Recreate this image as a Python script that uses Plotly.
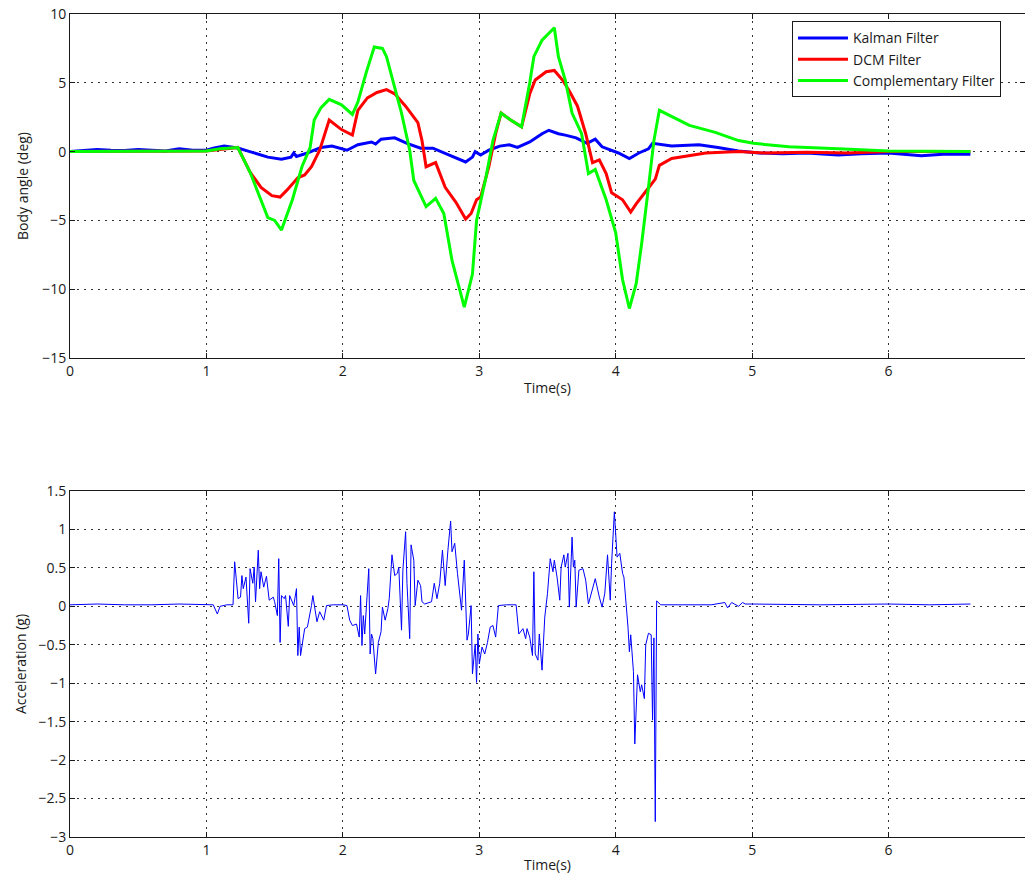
import plotly.graph_objects as go
from plotly.subplots import make_subplots

# ---- Body angle estimates (deg) ----
kalman_t = [0.0, 0.1, 0.2, 0.3, 0.4, 0.5, 0.6, 0.7, 0.8, 0.9, 1.0, 1.05, 1.13, 1.2, 1.23, 1.3,
            1.35, 1.45, 1.55, 1.62, 1.64, 1.66, 1.74, 1.84, 1.92, 2.03, 2.11, 2.21, 2.24, 2.28,
            2.38, 2.47, 2.57, 2.66, 2.78, 2.90, 2.95, 2.97, 3.01, 3.07, 3.15, 3.22, 3.28, 3.37,
            3.43, 3.46, 3.51, 3.58, 3.63, 3.71, 3.79, 3.85, 3.90, 4.02, 4.10, 4.17, 4.24, 4.27,
            4.41, 4.61, 4.75, 4.90, 5.05, 5.22, 5.4, 5.63, 5.8, 6.0, 6.24, 6.4, 6.6]
kalman_v = [0.0, 0.05, 0.15, 0.1, 0.08, 0.15, 0.1, 0.05, 0.2, 0.1, 0.1, 0.25, 0.4, 0.3, 0.26, 0.05,
            -0.1, -0.4, -0.55, -0.4, -0.1, -0.35, -0.1, 0.3, 0.4, 0.1, 0.5, 0.7, 0.55, 0.9,
            1.0, 0.6, 0.25, 0.25, -0.25, -0.75, -0.4, 0.0, -0.25, 0.1, 0.4, 0.5, 0.3, 0.7,
            1.1, 1.3, 1.55, 1.3, 1.2, 1.0, 0.6, 0.9, 0.35, -0.1, -0.5, -0.1, 0.2, 0.6,
            0.4, 0.5, 0.3, 0.05, -0.1, -0.15, -0.1, -0.25, -0.15, -0.1, -0.3, -0.2, -0.2]

dcm_t = [0.0, 0.5, 1.0, 1.1, 1.2, 1.23, 1.32, 1.40, 1.48, 1.54, 1.59, 1.67, 1.72, 1.77, 1.83,
         1.88, 1.90, 1.99, 2.07, 2.11, 2.18, 2.25, 2.32, 2.38, 2.46, 2.55, 2.58, 2.61, 2.68,
         2.75, 2.83, 2.90, 2.94, 2.98, 3.01, 3.07, 3.12, 3.16, 3.23, 3.31, 3.37, 3.41, 3.49,
         3.55, 3.61, 3.66, 3.72, 3.78, 3.83, 3.88, 3.93, 3.97, 4.05, 4.11, 4.15, 4.22, 4.29,
         4.32, 4.41, 4.66, 4.9, 5.1, 5.4, 5.7, 6.0, 6.6]
dcm_v = [0.0, 0.05, 0.05, 0.15, 0.25, 0.3, -1.5, -2.6, -3.2, -3.3, -2.8, -1.9, -1.7, -1.1, 0.1,
         1.6, 2.3, 1.6, 1.2, 3.0, 3.9, 4.3, 4.5, 4.2, 3.3, 2.1, 0.8, -1.1, -0.8,
         -2.6, -3.7, -4.9, -4.5, -3.5, -3.3, -1.1, 1.3, 2.8, 2.3, 1.8, 4.2, 5.2, 5.8,
         5.9, 5.2, 4.4, 3.3, 1.3, -0.8, -0.6, -1.6, -3.0, -3.5, -4.4, -3.8, -2.9, -2.0,
         -1.0, -0.5, -0.1, 0.0, -0.1, -0.05, -0.1, 0.0, 0.0]

comp_t = [0.0, 0.5, 1.0, 1.1, 1.23, 1.32, 1.38, 1.45, 1.50, 1.55, 1.63, 1.70, 1.76, 1.79, 1.84,
          1.90, 1.99, 2.07, 2.11, 2.17, 2.23, 2.29, 2.32, 2.38, 2.43, 2.49, 2.52, 2.61, 2.68,
          2.74, 2.80, 2.89, 2.95, 2.98, 3.05, 3.10, 3.16, 3.23, 3.31, 3.37, 3.40, 3.46, 3.50,
          3.55, 3.58, 3.63, 3.68, 3.71, 3.75, 3.80, 3.85, 3.93, 4.00, 4.05, 4.10, 4.15, 4.19,
          4.24, 4.28, 4.32, 4.54, 4.73, 4.90, 5.01, 5.27, 5.63, 6.0, 6.6]
comp_v = [0.0, 0.05, 0.05, 0.2, 0.3, -1.5, -3.0, -4.8, -5.0, -5.7, -3.5, -1.1, 0.3, 2.3, 3.2,
          3.8, 3.4, 2.7, 3.6, 5.7, 7.6, 7.5, 6.9, 4.7, 2.8, 0.1, -2.1, -4.0, -3.4,
          -4.5, -7.9, -11.3, -8.9, -5.0, -1.8, 0.8, 2.8, 2.3, 1.8, 5.0, 6.9, 8.1, 8.5,
          9.0, 6.9, 5.2, 2.8, 2.1, 1.3, -1.6, -1.3, -3.5, -5.9, -9.3, -11.4, -9.6, -6.7,
          -2.6, 0.8, 3.0, 1.9, 1.4, 0.8, 0.6, 0.35, 0.2, 0.05, 0.0]

# ---- Measured acceleration (g) ----
acc_t = [0.0, 0.2, 0.4, 0.6, 0.8, 1.0, 1.05, 1.08, 1.10, 1.15, 1.195, 1.207, 1.232, 1.25, 1.26,
         1.27, 1.29, 1.31, 1.32, 1.34, 1.35, 1.36, 1.38, 1.39, 1.40, 1.42, 1.44, 1.46, 1.49,
         1.50, 1.52, 1.53, 1.54, 1.55, 1.57, 1.58, 1.60, 1.61, 1.64, 1.66, 1.67, 1.68, 1.69,
         1.72, 1.74, 1.77, 1.78, 1.81, 1.83, 1.86, 1.88, 1.93, 2.00, 2.03, 2.05, 2.07, 2.10,
         2.12, 2.13, 2.14, 2.15, 2.16, 2.17, 2.19, 2.20, 2.21, 2.22, 2.24, 2.26, 2.28, 2.29,
         2.31, 2.33, 2.34, 2.36, 2.38, 2.40, 2.41, 2.43, 2.44, 2.46, 2.47, 2.49, 2.50, 2.52,
         2.53, 2.55, 2.57, 2.58, 2.60, 2.65, 2.67, 2.69, 2.71, 2.73, 2.75, 2.77, 2.79, 2.80,
         2.82, 2.84, 2.87, 2.89, 2.91, 2.92, 2.94, 2.95, 2.97, 2.98, 2.99, 3.00, 3.02, 3.04,
         3.06, 3.08, 3.10, 3.12, 3.13, 3.14, 3.20, 3.27, 3.29, 3.32, 3.34, 3.35, 3.37, 3.39,
         3.40, 3.41, 3.43, 3.44, 3.46, 3.48, 3.50, 3.52, 3.54, 3.55, 3.57, 3.59, 3.60, 3.62,
         3.63, 3.65, 3.66, 3.68, 3.69, 3.70, 3.71, 3.73, 3.76, 3.78, 3.80, 3.83, 3.85, 3.88,
         3.90, 3.92, 3.94, 3.96, 3.97, 3.99, 4.01, 4.03, 4.05, 4.06, 4.08, 4.09, 4.10, 4.11,
         4.13, 4.14, 4.16, 4.18, 4.19, 4.21, 4.22, 4.24, 4.26, 4.27, 4.28, 4.29, 4.30, 4.33,
         4.5, 4.7, 4.8, 4.82, 4.85, 4.9, 4.93, 4.95, 5.0, 5.5, 6.0, 6.3, 6.6]
acc_v = [0.02, 0.03, 0.02, 0.02, 0.03, 0.02, 0.02, -0.10, 0.0, 0.02, 0.02, 0.58, 0.10, 0.12, 0.40,
         0.23, 0.38, -0.22, 0.49, 0.30, 0.51, 0.06, 0.73, 0.23, 0.45, 0.25, 0.39, 0.08, 0.12,
         0.06, -0.12, 0.62, -0.47, 0.14, 0.10, 0.14, -0.26, 0.14, 0.01, 0.23, -0.64, -0.27, -0.64,
         -0.29, -0.27, 0.01, 0.14, -0.20, -0.07, -0.18, 0.01, 0.02, 0.02, 0.01, -0.18, -0.25, -0.23,
         -0.40, 0.14, -0.51, -0.12, -0.36, -0.10, 0.49, -0.62, -0.36, -0.42, -0.88, -0.47, -0.33, -0.01,
         -0.18, -0.03, 0.10, 0.67, 0.40, 0.43, 0.51, -0.31, 0.47, 0.97, 0.30, -0.42, 0.80, 0.60,
         0.01, 0.34, 0.27, 0.06, 0.03, 0.06, 0.30, 0.10, 0.30, 0.73, 0.27, 0.73, 1.11, 0.71,
         0.82, 0.43, -0.05, 0.60, -0.44, -0.36, 0.01, -0.88, -0.49, -0.99, -0.36, -0.75, -0.53, -0.62,
         -0.47, -0.27, -0.25, -0.40, -0.16, 0.01, 0.02, 0.02, -0.36, -0.29, -0.42, -0.29, -0.40, -0.64,
         0.45, -0.62, -0.70, -0.36, -0.83, -0.14, 0.17, 0.62, 0.45, 0.60, 0.38, 0.08, 0.51, 0.67,
         0.51, 0.69, -0.01, 0.90, 0.51, 0.60, -0.01, 0.47, 0.49, 0.34, 0.03, 0.25, 0.36, 0.12,
         -0.01, 0.17, 0.67, 0.08, 0.56, 1.23, 0.64, 0.69, 0.43, 0.38, 0.0, -0.27, -0.59, -0.37,
         -0.85, -1.79, -0.89, -1.11, -1.02, -1.20, -0.50, -0.35, -0.37, -1.48, -0.41, -2.80, 0.07, 0.02,
         0.02, 0.02, 0.05, -0.02, 0.05, 0.0, 0.05, 0.03, 0.03, 0.02, 0.03, 0.02, 0.03]

FONT = "Open Sans"
INK = "#1a1a1a"
FS = 14

fig = make_subplots(rows=2, cols=1, vertical_spacing=0.0)

fig.add_trace(go.Scatter(x=kalman_t, y=kalman_v, mode="lines", name="Kalman Filter",
                         line=dict(color="#0000FF", width=3)), row=1, col=1)
fig.add_trace(go.Scatter(x=dcm_t, y=dcm_v, mode="lines", name="DCM Filter",
                         line=dict(color="#FF0000", width=3)), row=1, col=1)
fig.add_trace(go.Scatter(x=comp_t, y=comp_v, mode="lines", name="Complementary Filter",
                         line=dict(color="#00FF00", width=3)), row=1, col=1)
fig.add_trace(go.Scatter(x=acc_t, y=acc_v, mode="lines", showlegend=False,
                         line=dict(color="#0000FF", width=1)), row=2, col=1)

axis_common = dict(
    showline=True, linecolor=INK, linewidth=1, mirror="ticks",
    ticks="inside", ticklen=5, tickcolor=INK,
    showgrid=True, gridcolor="#333333", griddash="2px,5px", gridwidth=1,
    zeroline=False, tickfont=dict(family=FONT, size=FS, color=INK),
)

title_font = dict(family=FONT, size=FS, color=INK)

fig.update_xaxes(**axis_common, range=[0, 7], dtick=1, tick0=0)
fig.update_xaxes(title=dict(text="Time(s)", font=title_font, standoff=4), row=1, col=1)
fig.update_xaxes(title=dict(text="Time(s)", font=title_font, standoff=4), row=2, col=1)

fig.update_yaxes(**axis_common)
fig.update_yaxes(range=[-15, 10], dtick=5, tick0=0, domain=[0.582, 1.0],
                 title=dict(text="Body angle (deg)", font=title_font, standoff=10),
                 row=1, col=1)
fig.update_yaxes(range=[-3, 1.5], dtick=0.5, tick0=0, domain=[0.0, 0.4204],
                 title=dict(text="Acceleration (g)", font=title_font, standoff=8),
                 row=2, col=1)

fig.update_layout(
    width=1025, height=874,
    margin=dict(l=70, r=0, t=14, b=37),
    paper_bgcolor="white", plot_bgcolor="white",
    font=dict(family=FONT, size=FS, color=INK),
    legend=dict(x=0.756, y=0.991, xanchor="left", yanchor="top",
                bgcolor="white", bordercolor=INK, borderwidth=1,
                font=dict(family=FONT, size=FS, color=INK),
                tracegroupgap=0, itemwidth=50),
)

fig.write_html("out.html")
